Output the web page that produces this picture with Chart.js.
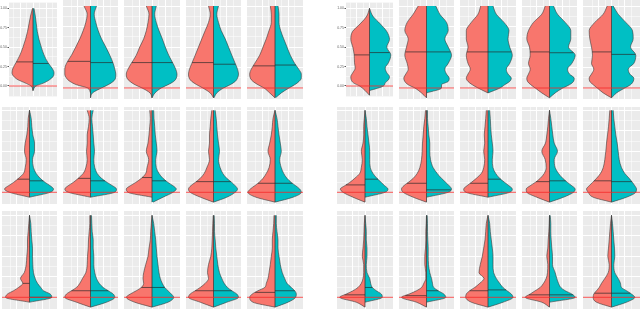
<!DOCTYPE html>
<html>
<head>
<meta charset="utf-8">
<script src="https://cdn.jsdelivr.net/npm/chart.js@4"></script>
<style>
html, body { margin: 0; padding: 0; background: #fff; }
#wrap { position: relative; width: 640px; height: 309px; overflow: hidden; }
#wrap canvas { position: absolute; }
</style>
</head>
<body>
<div id="wrap"></div>
<script>
// value levels shared by every violin outline
const levels = [-0.12, -0.06, 0, 0.04, 0.08, 0.12, 0.17, 0.23, 0.3, 0.4, 0.5, 0.6, 0.7, 0.8, 0.9, 1.0];
const yTickValues = [0, 0.25, 0.5, 0.75, 1];
const yTickText = ['0.00', '0.25', '0.50', '0.75', '1.00'];

// half widths (density) at each level, one array per violin
const tlRed = [
  [0, 0, 2, 8, 15, 19, 21, 20, 17, 13, 10, 7.5, 5.5, 4, 2.5, 0.5],
  [0, 0, 3, 14, 20.5, 24, 25.7, 25.7, 24, 19, 14.7, 10.7, 7.3, 4.7, 3.3, 6.5],
  [0, 2, 10, 17, 22, 25, 25.7, 24, 20.7, 15.7, 12.3, 8.3, 5.7, 4, 3, 5.7],
  [0, 3.3, 10.7, 16.7, 21.7, 24.3, 25, 24, 21.7, 18.3, 15, 11.7, 8.3, 5, 3.3, 5],
  [0, 5.3, 11, 17, 22, 24.7, 25.3, 23.7, 20.3, 15.3, 12, 8.7, 6, 3.7, 3.7, 4.7]
];
const tlCyan = [
  [0, 0, 3, 11, 16.5, 20, 21, 19, 15, 11, 8.3, 6, 4.3, 3.3, 2.3, 1],
  [0, 2, 11, 17.7, 22.7, 25, 25.3, 24.3, 22.7, 19.3, 15.3, 11, 7.7, 5.3, 3.7, 6],
  [0, 3, 9.3, 16, 21.7, 24.3, 25, 23.7, 21, 16.7, 13.3, 10.3, 7, 4.3, 2.7, 4.3],
  [0.5, 3.3, 10, 16.7, 21.7, 24, 25, 24, 21.7, 18.3, 15, 11.7, 7.7, 5, 3.3, 5],
  [0.5, 6.3, 14, 19.7, 24, 26.3, 26.3, 23.7, 19.7, 15.3, 12, 8.7, 5.7, 4, 4, 3]
];
const tlMedRed = [0.31, 0.325, 0.31, 0.31, 0.27];
const tlMedCyan = [0.29, 0.31, 0.31, 0.29, 0.28];

const trRed = [
  [0, 4.3, 10, 16, 18.3, 18.7, 16.7, 14.3, 15, 15.3, 16.7, 18.7, 17, 9.3, 2.7, 0],
  [0, 5, 11.7, 18.3, 21.7, 22.7, 20.7, 18.3, 19.3, 21.7, 20, 18.3, 21.7, 19.3, 13.3, 8.3],
  [0, 0, 10, 15.7, 20, 21.7, 20, 17.7, 20, 21.7, 20, 21.7, 21.7, 16.7, 10, 7.3],
  [0, 7.7, 14.3, 18.7, 22, 22.7, 21, 19.3, 21, 19.3, 20, 22.7, 21, 16, 7.7, 4.3],
  [0, 8.3, 14.3, 18.3, 21.7, 22.3, 20, 17.7, 20, 19, 20, 21.7, 22.3, 16.7, 8.3, 4.3]
];
const trCyan = [
  [0, 0, 14, 15.7, 19, 20, 17.3, 15.7, 19, 21.3, 17.3, 20, 17.3, 10.7, 3.3, 0],
  [0, 0, 15, 15, 21.7, 22.7, 20, 18.3, 21.7, 25, 21.7, 18.3, 21.7, 20, 13.3, 9.3],
  [0, 0, 12, 16.7, 21.7, 23.3, 20, 18.3, 21.7, 24.3, 21.7, 20, 21, 16, 8.3, 5],
  [0, 5.7, 13.3, 20, 24, 24.7, 20, 18, 22.3, 25.7, 19, 21.3, 21.3, 15.7, 8, 4],
  [0, 5, 13.3, 19, 21.7, 22.3, 18.3, 16.7, 22.3, 24.3, 19, 21.7, 21, 14.3, 6.7, 1.7]
];
const trMedRed = [0.40, 0.44, 0.44, 0.44, 0.44];
const trMedCyan = [0.43, 0.44, 0.44, 0.43, 0.41];

const mlRed = [
  [0, 0, 20, 25, 21, 16, 11, 6, 4.3, 3.3, 5, 4.3, 2.7, 1.7, 1.3, 0],
  [0, 0, 22, 25.7, 22.3, 17.3, 12.3, 7.3, 4.7, 3.3, 4, 3.3, 3.3, 2, 1.3, 3.3],
  [0, 0, 24, 25.7, 21.7, 16.3, 10.7, 6.3, 5, 3.3, 5.7, 4, 3, 2.3, 1.7, 2.3],
  [0, 13, 23.3, 25, 22.7, 18.3, 13.3, 9.3, 6.7, 4, 5, 4, 4, 3.3, 2.7, 1.7],
  [0, 19, 27, 24.7, 20.3, 16, 12, 8.7, 6, 4.7, 7, 5.3, 3.7, 2.7, 2, 0]
];
const mlCyan = [
  [0, 0, 20.7, 24, 20.7, 15.7, 10.7, 6.7, 4, 3, 5, 5, 3.3, 2.3, 1.7, 0],
  [0, 0, 24, 26, 22, 16.7, 11, 6.7, 4.3, 3.3, 4, 3.3, 2.7, 2, 1.3, 2.7],
  [1, 11, 21, 24.3, 21, 16, 11, 7, 4.3, 3.7, 5, 4.3, 3.3, 2.7, 2, 1.7],
  [0, 13.3, 21.7, 24, 21.7, 18.3, 13.3, 9.3, 6.7, 5, 6, 5, 4, 3.3, 2.7, 1.7],
  [0, 18, 26.3, 24.7, 20.7, 16.3, 12, 8.7, 6.3, 4.7, 6.3, 5.3, 4, 3, 2, 0]
];
const mlMedRed = [0.16, 0.17, 0.18, 0.13, 0.11];
const mlMedCyan = [0.14, 0.14, 0.14, 0.13, 0.11];

const mrRed = [
  [0, 12, 22, 24.7, 20.3, 15.3, 10.3, 5.3, 3.7, 2.7, 3.7, 2, 1.3, 1.3, 0.7, 0],
  [0, 13.3, 23.3, 25, 22.7, 18.3, 13.3, 9.3, 6.7, 5, 4.3, 4, 3.3, 2.7, 1.7, 1],
  [0, 0, 22, 24.3, 21, 16.7, 11.7, 6.7, 4.3, 3.3, 4.3, 3.3, 3.7, 3, 2.3, 1.7],
  [0, 12.7, 22.7, 23.3, 19.3, 14.3, 9.3, 5.3, 3.3, 4.3, 7.7, 4, 2.7, 1.7, 1, 0],
  [0, 18.3, 23.3, 25, 22.3, 19, 15, 11, 8.3, 6.7, 5.7, 5, 4, 3, 2.3, 1.7]
];
const mrCyan = [
  [0, 0, 20, 23, 19.7, 16.3, 12, 8, 5.3, 4.7, 4.7, 4, 3, 2, 1.3, 0],
  [0, 0, 21.7, 25, 22.7, 19.3, 15, 10.7, 6.7, 4, 3.3, 3.3, 2.3, 1.7, 1, 1],
  [0, 0, 21.7, 24.3, 21, 16.7, 11.7, 7.7, 5, 4.3, 5, 4.3, 3.3, 2.7, 2.3, 1.7],
  [0, 14, 24, 25.7, 22.3, 18, 13.3, 9, 5.7, 4.7, 8, 4.7, 3.3, 2.3, 1.3, 0],
  [0, 15, 24.3, 25, 23.3, 21, 17.7, 13.3, 10, 7.7, 6.7, 5.7, 4.3, 3.3, 2.3, 1.7]
];
const mrMedRed = [0.09, 0.11, 0.11, 0.13, 0.14];
const mrMedCyan = [0.16, 0.03, 0.16, 0.14, 0.13];

const blRed = [
  [0, 0, 24, 22, 16, 11, 6.7, 9, 5.3, 3.3, 2.7, 2, 2, 1.3, 0.7, 0],
  [0, 14, 25.7, 24, 19, 14, 10.7, 8, 4.7, 3.3, 3, 2.3, 2, 1.3, 0.7, 0.7],
  [0, 17.3, 25.7, 21.7, 15.7, 10.7, 8.3, 9, 8.3, 6.3, 4, 3, 1.7, 1.3, 0.7, 0],
  [0, 13.3, 25, 23.3, 18.3, 13.3, 8.3, 5, 6, 5, 2.7, 1.7, 1.3, 1, 0.7, 0.3],
  [0, 22, 25.3, 22.7, 17, 10.3, 8.7, 7, 6, 4.7, 3.7, 2.7, 2.7, 2, 1.3, 1]
];
const blCyan = [
  [0, 0, 22.3, 20.7, 14, 11.3, 8, 5.7, 4, 3.3, 3, 3, 2.3, 1.7, 1.3, 0],
  [0, 16, 24.3, 22.7, 17.7, 12.7, 8.7, 6, 4.3, 3.3, 3.3, 2.7, 2.7, 1.7, 1.3, 1],
  [0, 16, 21.7, 19.3, 16, 12.7, 10.3, 8.3, 7, 6, 5, 4.3, 3.7, 2.7, 1.7, 0],
  [0, 13.3, 25, 23.3, 18.3, 14, 10.7, 8.3, 6, 4.3, 3.3, 2.3, 1.7, 1, 1, 0.7],
  [0, 13, 20.7, 21.3, 19.7, 16.3, 12, 9.7, 7.3, 5.3, 4, 3, 3, 2, 1.3, 1.3]
];
const blMedRed = [0.17, 0.08, 0.12, 0.08, 0.06];
const blMedCyan = [0.0, 0.08, 0.12, 0.08, 0.08];

const brRed = [
  [0, 8.7, 25.3, 18.7, 12, 7, 3.7, 2, 1.3, 1.3, 2.7, 2, 1.3, 1, 0.7, 0],
  [0, 10, 25, 17.3, 10, 5, 2.7, 0.7, 0.7, 1.7, 1.7, 1, 0.7, 0.7, 0.3, 0],
  [0, 16.7, 22.3, 21.7, 18.3, 13.3, 8.3, 4, 9, 7.7, 5.7, 4.3, 3, 2.3, 1.7, 0],
  [0, 7.7, 24.3, 19.3, 14.3, 9.3, 6, 3.3, 2, 1.7, 2.7, 1.7, 1.3, 0.7, 0.3, 0],
  [0, 15, 18.3, 17.7, 15, 12.3, 10, 6.7, 3.3, 2.3, 3.7, 3, 2.3, 1.7, 1, 0]
];
const brCyan = [
  [0, 0, 17.3, 16.3, 11.3, 7.3, 5.7, 4.7, 2, 1.3, 2, 2, 1.3, 1.3, 0.7, 0],
  [0, 0, 19.3, 17.3, 11.7, 7.3, 6, 5, 3.3, 2, 1.7, 1.7, 1.3, 1, 1, 0.7],
  [0, 15, 25, 23.3, 19, 15, 11.7, 8.3, 5.7, 5, 5, 4.3, 3.3, 2.3, 1.7, 0],
  [0, 0, 25.7, 22.3, 15.7, 11.3, 9, 7.3, 5.7, 3, 3, 2.3, 1.7, 1.3, 1.3, 0.7],
  [0, 15, 23.3, 20, 15, 10, 9, 6.7, 3.3, 2.3, 3.3, 3, 2.3, 1.7, 1, 0]
];
const brMedRed = [0.03, 0.02, 0.08, 0.03, 0.05];
const brMedCyan = [0.12, 0.08, 0.09, 0.03, 0.05];

// ---- layout / style ----
const RED = '#F8766D';
const CYAN = '#00BFC4';
const EDGE = '#3a3a3a';
const PANEL_BG = '#EBEBEB';
const PX_PER_UNIT = 82;
const gridY = [0, 0.125, 0.25, 0.375, 0.5, 0.625, 0.75, 0.875, 1];
const gridX = [-19.5, -13, -6.5, 0, 6.5, 13, 19.5];

const rows = [
  { top: 0, bottom: 99, zero: 88 },
  { top: 107, bottom: 204, zero: 192.3 },
  { top: 211, bottom: 309, zero: 297.3 }
];
const leftCols = [[63, 118], [124, 180], [186, 241], [247, 303]];
const rightCols = [[399, 454], [460, 516], [522, 577], [583, 640]];

const groups = [
  { row: 0, first: [9, 57], rest: leftCols, axisW: 9, red: tlRed, cyan: tlCyan, medRed: tlMedRed, medCyan: tlMedCyan },
  { row: 0, first: [346, 393], rest: rightCols, axisW: 10, red: trRed, cyan: trCyan, medRed: trMedRed, medCyan: trMedCyan },
  { row: 1, first: [2, 57], rest: leftCols, axisW: 0, red: mlRed, cyan: mlCyan, medRed: mlMedRed, medCyan: mlMedCyan },
  { row: 1, first: [337, 393], rest: rightCols, axisW: 0, red: mrRed, cyan: mrCyan, medRed: mrMedRed, medCyan: mrMedCyan },
  { row: 2, first: [2, 57], rest: leftCols, axisW: 0, red: blRed, cyan: blCyan, medRed: blMedRed, medCyan: blMedCyan },
  { row: 2, first: [337, 393], rest: rightCols, axisW: 0, red: brRed, cyan: brCyan, medRed: brMedRed, medCyan: brMedCyan }
];

const wrap = document.getElementById('wrap');

// keep one zero point on each end, drop the rest
function outline(widths) {
  let i0 = widths.findIndex(w => w > 0);
  let i1 = widths.length - 1;
  while (i1 > 0 && widths[i1] === 0) i1--;
  i0 = Math.max(i0 - 1, 0);
  i1 = Math.min(i1 + 1, widths.length - 1);
  const pts = [];
  for (let i = i0; i <= i1; i++) pts.push([levels[i], widths[i]]);
  return pts;
}

function widthAt(widths, v) {
  for (let i = 1; i < levels.length; i++) {
    if (v <= levels[i]) {
      const t = (v - levels[i - 1]) / (levels[i] - levels[i - 1]);
      return widths[i - 1] + t * (widths[i] - widths[i - 1]);
    }
  }
  return widths[widths.length - 1];
}

const panelBg = {
  id: 'panelBg',
  beforeDraw(chart) {
    const a = chart.chartArea;
    chart.ctx.save();
    chart.ctx.fillStyle = PANEL_BG;
    chart.ctx.fillRect(a.left, a.top, a.right - a.left, a.bottom - a.top);
    chart.ctx.restore();
  }
};

function halfSet(widths, sign, color) {
  return {
    data: outline(widths).map(([y, w]) => ({ x: sign * w, y })),
    borderColor: EDGE,
    borderWidth: 0.6,
    backgroundColor: color,
    fill: 'origin',
    pointRadius: 0,
    cubicInterpolationMode: 'monotone',
    order: 5
  };
}

function lineSet(points, color, width, order) {
  return {
    data: points,
    borderColor: color,
    borderWidth: width,
    fill: false,
    pointRadius: 0,
    tension: 0,
    order
  };
}

function makePanel(x0, x1, row, red, cyan, mRed, mCyan, axisW) {
  const cv = document.createElement('canvas');
  const left = Math.max(x0 - axisW, 0);
  const aw = x0 - left;
  cv.width = x1 - left;
  cv.height = row.bottom - row.top;
  cv.style.left = left + 'px';
  cv.style.top = row.top + 'px';
  wrap.appendChild(cv);

  const half = (x1 - x0) / 2;
  const yMax = (row.zero - row.top) / PX_PER_UNIT;
  const yMin = -(row.bottom - row.zero) / PX_PER_UNIT;

  const both = red.map((w, i) => Math.max(w, cyan[i]));
  const ext = outline(both);
  const lo = ext[0][0], hi = ext[ext.length - 1][0];

  new Chart(cv, {
    type: 'line',
    data: {
      datasets: [
        lineSet([{ x: -half, y: 0 }, { x: half, y: 0 }], 'rgba(245,40,40,0.8)', 1, 0),
        lineSet([{ x: -widthAt(red, mRed), y: mRed }, { x: 0, y: mRed }], 'rgba(40,40,40,0.85)', 0.8, 1),
        lineSet([{ x: 0, y: mCyan }, { x: widthAt(cyan, mCyan), y: mCyan }], 'rgba(40,40,40,0.85)', 0.8, 1),
        lineSet([{ x: 0, y: lo }, { x: 0, y: hi }], EDGE, 0.8, 2),
        halfSet(red, -1, RED),
        halfSet(cyan, 1, CYAN)
      ]
    },
    options: {
      responsive: false,
      animation: false,
      indexAxis: 'y',
      devicePixelRatio: 1,
      layout: { padding: 0 },
      plugins: { legend: { display: false }, tooltip: { enabled: false } },
      scales: {
        x: {
          type: 'linear', min: -half, max: half,
          border: { display: false },
          ticks: { display: false },
          grid: {
            drawTicks: false,
            color: '#FFFFFF',
            lineWidth: c => (c.tick && Math.abs(c.tick.value) % 13 === 0) ? 1 : 0.5
          },
          afterBuildTicks: s => { s.ticks = gridX.map(v => ({ value: v })); }
        },
        y: {
          type: 'linear', min: yMin, max: yMax, position: 'left',
          border: { display: false },
          ticks: {
            display: aw > 0,
            padding: 0.5,
            autoSkip: false,
            color: '#666666',
            font: { family: 'Liberation Sans', size: 3.5 },
            callback: v => { const k = yTickValues.indexOf(v); return k >= 0 ? yTickText[k] : ''; }
          },
          grid: {
            drawTicks: aw > 0,
            tickLength: 1.5,
            tickColor: c => (c.tick && yTickValues.includes(c.tick.value)) ? '#555555' : 'rgba(0,0,0,0)',
            color: '#FFFFFF',
            lineWidth: c => (c.tick && yTickValues.includes(c.tick.value)) ? 1 : 0.5
          },
          afterBuildTicks: s => { s.ticks = gridY.map(v => ({ value: v })); },
          afterFit: s => { s.width = aw; }
        }
      }
    },
    plugins: [panelBg]
  });
}

groups.forEach(g => {
  const cols = [g.first].concat(g.rest);
  cols.forEach(([x0, x1], i) => {
    makePanel(x0, x1, rows[g.row], g.red[i], g.cyan[i], g.medRed[i], g.medCyan[i], i === 0 ? g.axisW : 0);
  });
});
</script>
</body>
</html>
